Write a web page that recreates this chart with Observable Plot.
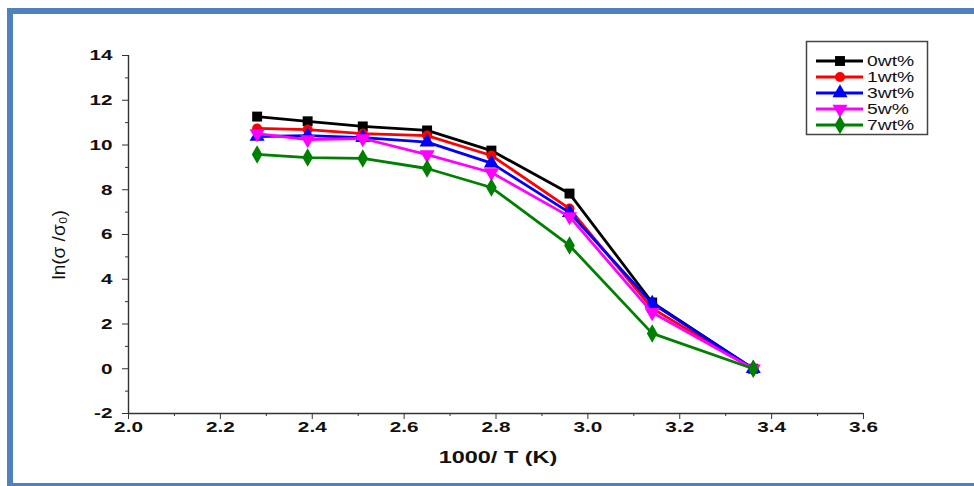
<!DOCTYPE html>
<html>
<head>
<meta charset="utf-8">
<script src="https://cdn.jsdelivr.net/npm/d3@7"></script>
<script src="https://cdn.jsdelivr.net/npm/@observablehq/plot@0.6"></script>
<style>
  html, body { margin: 0; padding: 0; background: #fff; overflow: hidden; }
  #wrap { position: relative; width: 974px; height: 486px; overflow: hidden; }
  #frame {
    position: absolute; left: 7px; top: 8px; width: 990px; height: 469px;
    border: 6px solid #4f81bd; box-sizing: content-box; pointer-events: none;
  }
  #legend { position: absolute; left: 0; top: 0; }
</style>
</head>
<body>
<div id="wrap"><div id="frame"></div></div>
<script>
// 1000/T (K^-1) for each measurement temperature
const invT = [2.28, 2.39, 2.51, 2.65, 2.79, 2.96, 3.14, 3.36];

// ln(sigma/sigma0) for each filler content
const wt0 = [11.27, 11.06, 10.83, 10.65, 9.75, 7.83, 2.96, 0];
const wt1 = [10.74, 10.69, 10.51, 10.42, 9.53, 7.16, 2.70, 0];
const wt3 = [10.38, 10.42, 10.33, 10.13, 9.19, 6.98, 2.92, 0];
const wt5 = [10.51, 10.24, 10.29, 9.57, 8.77, 6.80, 2.51, 0];
const wt7 = [9.58, 9.44, 9.40, 8.95, 8.10, 5.51, 1.58, 0];

const seriesNames = ["0wt%", "1wt%", "3wt%", "5w%", "7wt%"];
const seriesValues = [wt0, wt1, wt3, wt5, wt7];
const seriesColors = ["#000000", "#ff0000", "#0000ff", "#ff00ff", "#008000"];
const seriesSymbols = ["square", "circle", "triangle", "triangle", "diamond"];
const seriesRotate = [0, 0, 0, 180, 0];

const xTicks = [2.0, 2.2, 2.4, 2.6, 2.8, 3.0, 3.2, 3.4, 3.6];
const xMinor = [2.1, 2.3, 2.5, 2.7, 2.9, 3.1, 3.3, 3.5];
const yTicks = [-2, 0, 2, 4, 6, 8, 10, 12, 14];
const yMinor = [-1, 1, 3, 5, 7, 9, 11, 13];

const font = "'Liberation Sans', Arial, Helvetica, sans-serif";
const wide = 1.38; // horizontal stretch of the printed lettering
const markerR = (s) => s === "circle" ? 5 : 5.6;

const seriesMarks = seriesValues.flatMap((vals, i) => {
  const rows = invT.map((x, j) => ({x, y: vals[j]}));
  return [
    Plot.line(rows, {x: "x", y: "y", stroke: seriesColors[i], strokeWidth: 2.8}),
    Plot.dot(rows, {x: "x", y: "y", symbol: seriesSymbols[i], rotate: seriesRotate[i],
      r: markerR(seriesSymbols[i]), fill: seriesColors[i], stroke: "none"})
  ];
});

const chart = Plot.plot({
  width: 974,
  height: 486,
  marginLeft: 128,
  marginRight: 111,
  marginTop: 55,
  marginBottom: 73,
  style: {fontFamily: font, background: "transparent", color: "#111"},
  x: {domain: [2.0, 3.6]},
  y: {domain: [-2, 14]},
  marks: [
    // tick marks (labels drawn below as text marks)
    Plot.axisX(xMinor, {tickSize: 3, tickFormat: () => "", label: null, stroke: "#333"}),
    Plot.axisX(xTicks, {tickSize: 6, tickFormat: () => "", label: null, stroke: "#333"}),
    Plot.axisY(yMinor, {tickSize: 3, tickFormat: () => "", label: null, stroke: "#333"}),
    Plot.axisY(yTicks, {tickSize: 6, tickFormat: () => "", label: null, stroke: "#333"}),
    Plot.text(xTicks, {x: (d) => d, frameAnchor: "bottom", dy: 18, text: d3.format(".1f"),
      fontSize: 15, fontWeight: "bold", fill: "#111"}),
    Plot.text(yTicks, {y: (d) => d, frameAnchor: "left", dx: -16, textAnchor: "end",
      text: (d) => String(d), fontSize: 15, fontWeight: "bold", fill: "#111"}),
    Plot.ruleY([-2], {stroke: "#333", strokeWidth: 1.4}),
    Plot.ruleX([2.0], {stroke: "#333", strokeWidth: 1.4}),
    ...seriesMarks,
    Plot.text(["1000/ T (K)"], {frameAnchor: "bottom", dx: 2, dy: 49,
      fontSize: 17, fontWeight: "bold", fill: "#111"}),
    Plot.text(["ln(σ /σ₀)"], {frameAnchor: "left", rotate: -90, dx: -70, dy: 45,
      fontSize: 19, fontWeight: "normal", fill: "#111"})
  ]
});

const wrap = document.getElementById("wrap");
wrap.insertBefore(chart, wrap.firstChild);

// Legend box with line + marker samples
const lg = d3.select(wrap).append("svg")
  .attr("id", "legend").attr("width", 974).attr("height", 486)
  .style("font-family", font);
lg.append("rect")
  .attr("x", 806.5).attr("y", 41.5).attr("width", 121).attr("height", 93)
  .attr("fill", "#fff").attr("stroke", "#444").attr("stroke-width", 1.5);
const symbolTypes = {square: d3.symbolSquare, circle: d3.symbolCircle,
  triangle: d3.symbolTriangle, diamond: d3.symbolDiamond};
seriesNames.forEach((name, i) => {
  const y = 61 + i * 16;
  const g = lg.append("g");
  g.append("line").attr("x1", 816).attr("x2", 863).attr("y1", y).attr("y2", y)
    .attr("stroke", seriesColors[i]).attr("stroke-width", 3);
  const r = markerR(seriesSymbols[i]);
  g.append("path")
    .attr("d", d3.symbol(symbolTypes[seriesSymbols[i]], Math.PI * r * r)())
    .attr("transform", `translate(840,${y}) rotate(${seriesRotate[i]})`)
    .attr("fill", seriesColors[i]);
  g.append("text").attr("x", 867).attr("y", y).attr("dy", "0.35em")
    .attr("font-size", 14).attr("fill", "#111").text(name);
});

// Widen horizontal lettering (rotated label left as is)
d3.select(wrap).selectAll("svg text").each(function () {
  const t = (this.getAttribute("transform") || "") + (this.parentNode.getAttribute("transform") || "");
  if (t.includes("rotate")) return;
  const w = this.getComputedTextLength();
  if (w > 0) {
    this.setAttribute("textLength", (w * wide).toFixed(1));
    this.setAttribute("lengthAdjust", "spacingAndGlyphs");
  }
});
</script>
</body>
</html>
